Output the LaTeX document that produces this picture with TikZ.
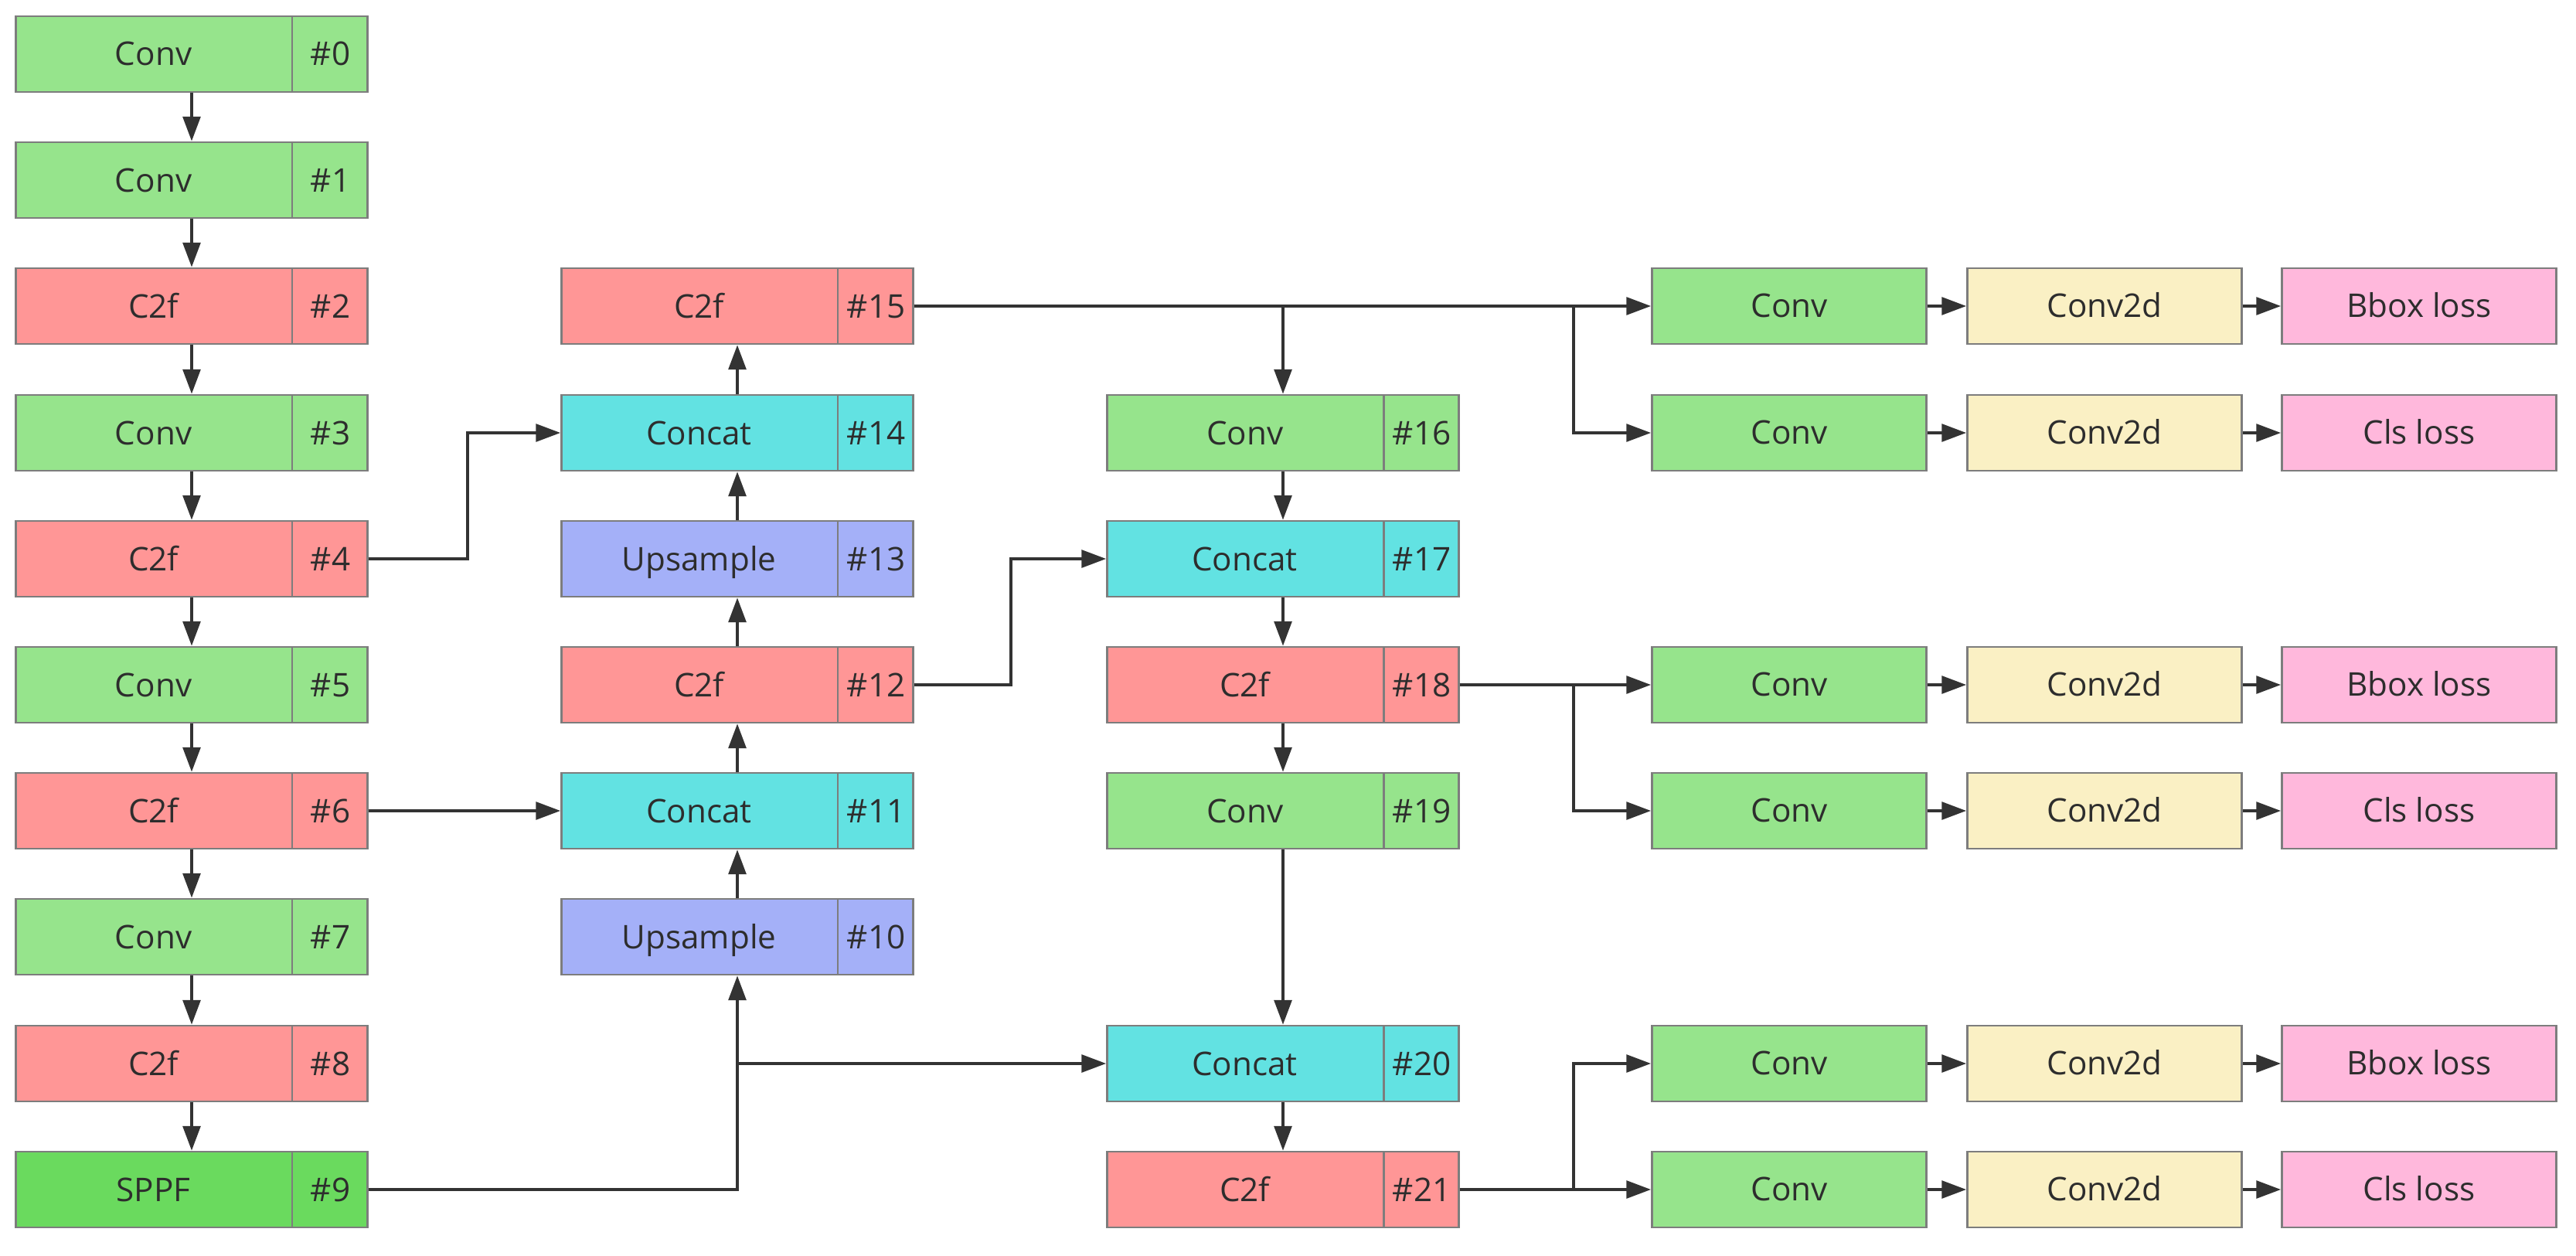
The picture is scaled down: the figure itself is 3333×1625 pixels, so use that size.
\documentclass[tikz,border=0pt]{standalone}
\usepackage{fontspec}
\setmainfont{Open Sans}
\usetikzlibrary{arrows.meta,shapes.multipart}

\definecolor{convgreen}{RGB}{150,228,140}
\definecolor{sppfgreen}{RGB}{106,218,94}
\definecolor{c2fred}{RGB}{255,150,150}
\definecolor{catcyan}{RGB}{98,226,226}
\definecolor{upblue}{RGB}{164,176,248}
\definecolor{dyellow}{RGB}{250,240,196}
\definecolor{losspink}{RGB}{255,184,220}
\definecolor{boxgray}{RGB}{125,125,125}
\definecolor{linegray}{RGB}{51,51,51}
\definecolor{textgray}{RGB}{45,45,45}

\tikzset{
  layer/.style={rectangle split, rectangle split horizontal, rectangle split parts=2,
    draw=boxgray, line width=0.8pt, inner sep=0pt, text=textgray,
    font=\fontsize{12}{14}\selectfont},
  headbox/.style={draw=boxgray, line width=0.8pt, minimum width=3.55cm, minimum height=0.98cm,
    inner sep=0pt, text height=8.5pt, text depth=0pt, text=textgray,
    font=\fontsize{12}{14}\selectfont},
  link/.style={-{Triangle[length=9pt,width=6.5pt]}, line width=0.9pt, draw=linegray}
}
\newcommand{\lay}[2]{\rule[-0.34cm]{0pt}{0.98cm}\makebox[3.56cm]{#1}%
  \nodepart{two}\rule[-0.34cm]{0pt}{0.98cm}\makebox[0.96cm]{#2}}

\begin{document}
\begin{tikzpicture}[x=0.01cm,y=-0.01cm]
	%%%%% START %%%%%
	\useasboundingbox (0,0) rectangle (3333,1625);
	
	% backbone
	\node[layer, fill=convgreen] (b0) at (248,70) {\lay{Conv}{\#0}};
	\node[layer, fill=convgreen] (b1) at (248,233) {\lay{Conv}{\#1}};
	\node[layer, fill=c2fred] (b2) at (248,396) {\lay{C2f}{\#2}};
	\node[layer, fill=convgreen] (b3) at (248,560) {\lay{Conv}{\#3}};
	\node[layer, fill=c2fred] (b4) at (248,723) {\lay{C2f}{\#4}};
	\node[layer, fill=convgreen] (b5) at (248,886) {\lay{Conv}{\#5}};
	\node[layer, fill=c2fred] (b6) at (248,1049) {\lay{C2f}{\#6}};
	\node[layer, fill=convgreen] (b7) at (248,1212) {\lay{Conv}{\#7}};
	\node[layer, fill=c2fred] (b8) at (248,1376) {\lay{C2f}{\#8}};
	\node[layer, fill=sppfgreen] (b9) at (248,1539) {\lay{SPPF}{\#9}};
	
	% neck, going up
	\node[layer, fill=upblue] (b10) at (954,1212) {\lay{Upsample}{\#10}};
	\node[layer, fill=catcyan] (b11) at (954,1049) {\lay{Concat}{\#11}};
	\node[layer, fill=c2fred] (b12) at (954,886) {\lay{C2f}{\#12}};
	\node[layer, fill=upblue] (b13) at (954,723) {\lay{Upsample}{\#13}};
	\node[layer, fill=catcyan] (b14) at (954,560) {\lay{Concat}{\#14}};
	\node[layer, fill=c2fred] (b15) at (954,396) {\lay{C2f}{\#15}};
	
	% neck, going down
	\node[layer, fill=convgreen] (b16) at (1660,560) {\lay{Conv}{\#16}};
	\node[layer, fill=catcyan] (b17) at (1660,723) {\lay{Concat}{\#17}};
	\node[layer, fill=c2fred] (b18) at (1660,886) {\lay{C2f}{\#18}};
	\node[layer, fill=convgreen] (b19) at (1660,1049) {\lay{Conv}{\#19}};
	\node[layer, fill=catcyan] (b20) at (1660,1376) {\lay{Concat}{\#20}};
	\node[layer, fill=c2fred] (b21) at (1660,1539) {\lay{C2f}{\#21}};
	
	% heads
	\node[headbox, fill=convgreen] (h2a) at (2315,396) {Conv};
	\node[headbox, fill=dyellow] (h2b) at (2723,396) {Conv2d};
	\node[headbox, fill=losspink] (h2c) at (3130,396) {Bbox loss};
	\node[headbox, fill=convgreen] (h3a) at (2315,560) {Conv};
	\node[headbox, fill=dyellow] (h3b) at (2723,560) {Conv2d};
	\node[headbox, fill=losspink] (h3c) at (3130,560) {Cls loss};
	
	\node[headbox, fill=convgreen] (h5a) at (2315,886) {Conv};
	\node[headbox, fill=dyellow] (h5b) at (2723,886) {Conv2d};
	\node[headbox, fill=losspink] (h5c) at (3130,886) {Bbox loss};
	\node[headbox, fill=convgreen] (h6a) at (2315,1049) {Conv};
	\node[headbox, fill=dyellow] (h6b) at (2723,1049) {Conv2d};
	\node[headbox, fill=losspink] (h6c) at (3130,1049) {Cls loss};
	
	\node[headbox, fill=convgreen] (h8a) at (2315,1376) {Conv};
	\node[headbox, fill=dyellow] (h8b) at (2723,1376) {Conv2d};
	\node[headbox, fill=losspink] (h8c) at (3130,1376) {Bbox loss};
	\node[headbox, fill=convgreen] (h9a) at (2315,1539) {Conv};
	\node[headbox, fill=dyellow] (h9b) at (2723,1539) {Conv2d};
	\node[headbox, fill=losspink] (h9c) at (3130,1539) {Cls loss};
	
	\coordinate (split) at (2036,0);
	
	% backbone links
	\draw[link] (b0.south) -- (b1.north);
	\draw[link] (b1.south) -- (b2.north);
	\draw[link] (b2.south) -- (b3.north);
	\draw[link] (b3.south) -- (b4.north);
	\draw[link] (b4.south) -- (b5.north);
	\draw[link] (b5.south) -- (b6.north);
	\draw[link] (b6.south) -- (b7.north);
	\draw[link] (b7.south) -- (b8.north);
	\draw[link] (b8.south) -- (b9.north);
	
	% skips into the neck
	\draw[link] (b4.east) -- ++(128,0) |- (b14.west);
	\draw[link] (b6.east) -- (b11.west);
	\draw[link] (b9.east) -| (b10.south);
	\draw[link] (b9.east) -| (b10.south |- b20.west) -- (b20.west);
	\draw[link] (b12.east) -- ++(125,0) |- (b17.west);
	
	\draw[link] (b10.north) -- (b11.south);
	\draw[link] (b11.north) -- (b12.south);
	\draw[link] (b12.north) -- (b13.south);
	\draw[link] (b13.north) -- (b14.south);
	\draw[link] (b14.north) -- (b15.south);
	
	\draw[link] (b15.east) -| (b16.north);
	\draw[link] (b16.south) -- (b17.north);
	\draw[link] (b17.south) -- (b18.north);
	\draw[link] (b18.south) -- (b19.north);
	\draw[link] (b19.south) -- (b20.north);
	\draw[link] (b20.south) -- (b21.north);
	
	% into the heads
	\draw[link] (b15.east) -- (h2a.west);
	\draw[link] (b15.east) -- (b15.east -| split) |- (h3a.west);
	\draw[link] (b18.east) -- (h5a.west);
	\draw[link] (b18.east) -- (b18.east -| split) |- (h6a.west);
	\draw[link] (b21.east) -- (b21.east -| split) |- (h8a.west);
	\draw[link] (b21.east) -- (h9a.west);
	
	\draw[link] (h2a) -- (h2b);
	\draw[link] (h2b) -- (h2c);
	\draw[link] (h3a) -- (h3b);
	\draw[link] (h3b) -- (h3c);
	\draw[link] (h5a) -- (h5b);
	\draw[link] (h5b) -- (h5c);
	\draw[link] (h6a) -- (h6b);
	\draw[link] (h6b) -- (h6c);
	\draw[link] (h8a) -- (h8b);
	\draw[link] (h8b) -- (h8c);
	\draw[link] (h9a) -- (h9b);
	\draw[link] (h9b) -- (h9c);
	
	%%%%% END %%%%%
\end{tikzpicture}
\end{document}
